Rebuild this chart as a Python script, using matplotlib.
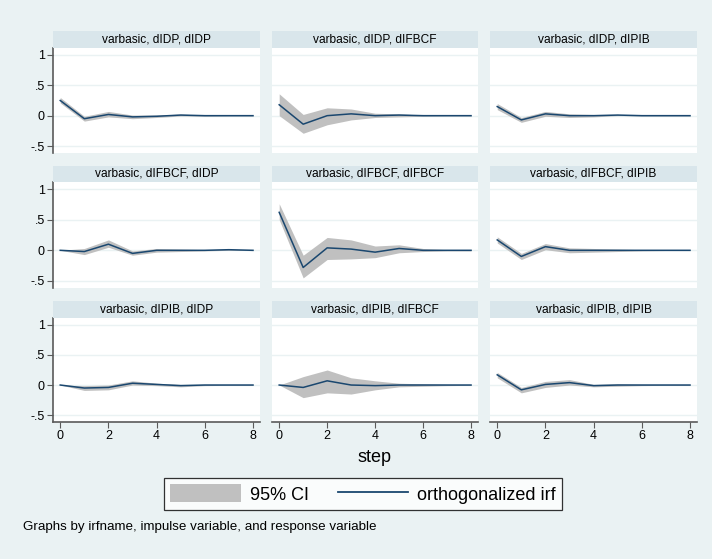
import numpy as np
import matplotlib
matplotlib.use("Agg")
import matplotlib.pyplot as plt
from matplotlib.patches import Patch
from matplotlib.lines import Line2D

plt.rcParams['font.family'] = ['Liberation Sans', 'DejaVu Sans']

# impulse-response data, steps 0..8
steps = [0, 1, 2, 3, 4, 5, 6, 7, 8]
variables = ["dIDP", "dIFBCF", "dIPIB"]

# dIDP -> dIDP
irf_idp_idp = [0.25, -0.05, 0.02, -0.02, -0.01, 0.01, 0.0, 0.0, 0.0]
lo_idp_idp = [0.21, -0.09, -0.02, -0.05, -0.03, -0.005, -0.01, -0.005, -0.005]
hi_idp_idp = [0.30, -0.01, 0.07, 0.01, 0.01, 0.025, 0.01, 0.005, 0.005]
# dIDP -> dIFBCF
irf_idp_fbcf = [0.18, -0.14, 0.0, 0.03, 0.0, 0.01, 0.0, 0.0, 0.0]
lo_idp_fbcf = [0.0, -0.29, -0.15, -0.07, -0.03, -0.02, -0.01, -0.005, -0.005]
hi_idp_fbcf = [0.36, 0.02, 0.13, 0.11, 0.04, 0.03, 0.01, 0.005, 0.005]
# dIDP -> dIPIB
irf_idp_pib = [0.15, -0.07, 0.03, 0.0, 0.0, 0.01, 0.0, 0.0, 0.0]
lo_idp_pib = [0.10, -0.11, -0.01, -0.03, -0.02, 0.0, -0.005, -0.005, -0.005]
hi_idp_pib = [0.20, -0.03, 0.07, 0.03, 0.02, 0.02, 0.005, 0.005, 0.005]
# dIFBCF -> dIDP
irf_fbcf_idp = [0.0, -0.02, 0.10, -0.05, 0.0, 0.0, 0.0, 0.01, 0.0]
lo_fbcf_idp = [0.0, -0.07, 0.05, -0.08, -0.03, -0.02, -0.01, 0.0, -0.005]
hi_fbcf_idp = [0.0, 0.03, 0.17, -0.01, 0.03, 0.02, 0.01, 0.02, 0.005]
# dIFBCF -> dIFBCF
irf_fbcf_fbcf = [0.62, -0.28, 0.04, 0.02, -0.03, 0.03, 0.0, 0.0, 0.0]
lo_fbcf_fbcf = [0.50, -0.45, -0.15, -0.14, -0.12, -0.04, -0.02, -0.01, -0.01]
hi_fbcf_fbcf = [0.76, -0.08, 0.21, 0.17, 0.07, 0.09, 0.03, 0.01, 0.01]
# dIFBCF -> dIPIB
irf_fbcf_pib = [0.17, -0.10, 0.06, 0.0, 0.0, 0.0, 0.0, 0.0, 0.0]
lo_fbcf_pib = [0.12, -0.15, 0.01, -0.04, -0.03, -0.02, -0.01, -0.005, -0.005]
hi_fbcf_pib = [0.22, -0.05, 0.11, 0.04, 0.03, 0.02, 0.01, 0.005, 0.005]
# dIPIB -> dIDP
irf_pib_idp = [0.0, -0.05, -0.04, 0.03, 0.01, -0.01, 0.0, 0.0, 0.0]
lo_pib_idp = [0.0, -0.09, -0.08, 0.0, -0.01, -0.03, -0.01, -0.005, -0.005]
hi_pib_idp = [0.0, -0.01, 0.0, 0.07, 0.03, 0.01, 0.01, 0.005, 0.005]
# dIPIB -> dIFBCF
irf_pib_fbcf = [0.0, -0.04, 0.07, 0.0, -0.01, 0.0, 0.0, 0.0, 0.0]
lo_pib_fbcf = [0.0, -0.21, -0.13, -0.15, -0.08, -0.03, -0.02, -0.01, -0.005]
hi_pib_fbcf = [0.0, 0.14, 0.25, 0.12, 0.07, 0.03, 0.02, 0.01, 0.005]
# dIPIB -> dIPIB
irf_pib_pib = [0.17, -0.08, 0.01, 0.04, -0.01, 0.0, 0.0, 0.0, 0.0]
lo_pib_pib = [0.12, -0.13, -0.04, 0.0, -0.03, -0.02, -0.01, -0.005, -0.005]
hi_pib_pib = [0.21, -0.04, 0.06, 0.09, 0.01, 0.02, 0.01, 0.005, 0.005]

panels = [
    [(irf_idp_idp, lo_idp_idp, hi_idp_idp),
     (irf_idp_fbcf, lo_idp_fbcf, hi_idp_fbcf),
     (irf_idp_pib, lo_idp_pib, hi_idp_pib)],
    [(irf_fbcf_idp, lo_fbcf_idp, hi_fbcf_idp),
     (irf_fbcf_fbcf, lo_fbcf_fbcf, hi_fbcf_fbcf),
     (irf_fbcf_pib, lo_fbcf_pib, hi_fbcf_pib)],
    [(irf_pib_idp, lo_pib_idp, hi_pib_idp),
     (irf_pib_fbcf, lo_pib_fbcf, hi_pib_fbcf),
     (irf_pib_pib, lo_pib_pib, hi_pib_pib)],
]

yticks = [-0.5, 0, 0.5, 1]
ytick_labels = ["-.5", "0", ".5", "1"]
xticks = [0, 2, 4, 6, 8]

bg = "#EAF2F3"
strip_col = "#D9E6EB"
grid_col = "#EAF2F3"
line_col = "#1A476F"
ci_col = "#C0C0C0"
axis_col = "#5A5A5A"

W, H = 712, 559
fig = plt.figure(figsize=(W / 100, H / 100), dpi=100, facecolor=bg)

col_x = [(53, 260), (272, 478), (490, 697)]
row_y = [(31, 48, 153), (166, 182, 288), (301, 318, 422)]

for r in range(3):
    for c in range(3):
        x0, x1 = col_x[c]
        s0, p0, p1 = row_y[r]
        irf, lo, hi = panels[r][c]

        ax = fig.add_axes([x0 / W, 1 - p1 / H, (x1 - x0) / W, (p1 - p0) / H])
        ax.set_facecolor("white")
        for y in yticks:
            ax.axhline(y, color=grid_col, lw=1.0, zorder=0)
        ax.fill_between(steps, lo, hi, color=ci_col, lw=0, zorder=1)
        ax.plot(steps, irf, color=line_col, lw=1.1, zorder=2)
        ax.set_xlim(-0.3, 8.29)
        ax.set_ylim(-0.615, 1.115)
        for sp in ax.spines.values():
            sp.set_visible(False)
        ax.set_yticks(yticks)
        ax.set_xticks(xticks)
        if c == 0:
            ax.spines['left'].set_visible(True)
            ax.spines['left'].set_color(axis_col)
            ax.spines['left'].set_linewidth(1.2)
            ax.set_yticklabels(ytick_labels, fontsize=9)
            ax.tick_params(axis='y', length=4, color=axis_col, pad=2)
        else:
            ax.tick_params(axis='y', length=0, labelleft=False)
        if r == 2:
            ax.spines['bottom'].set_visible(True)
            ax.spines['bottom'].set_color(axis_col)
            ax.spines['bottom'].set_linewidth(1.2)
            ax.set_xticklabels([str(v) for v in xticks], fontsize=9)
            ax.tick_params(axis='x', length=4, color=axis_col, pad=2)
        else:
            ax.tick_params(axis='x', length=0, labelbottom=False)

        sax = fig.add_axes([x0 / W, 1 - p0 / H, (x1 - x0) / W, (p0 - s0) / H])
        sax.set_facecolor(strip_col)
        sax.set_xticks([])
        sax.set_yticks([])
        for sp in sax.spines.values():
            sp.set_visible(False)
        sax.text(0.5, 0.5, "varbasic, %s, %s" % (variables[r], variables[c]),
                 ha="center", va="center", fontsize=8.6, transform=sax.transAxes)

fig.text(375 / W, 1 - 458 / H, "step", ha="center", va="center", fontsize=13)

handles = [Patch(facecolor=ci_col, edgecolor="none"),
           Line2D([0], [0], color=line_col, lw=1.3)]
leg = fig.legend(handles, ["95% CI", "orthogonalized irf"], ncol=2,
                 loc="center", bbox_to_anchor=(363 / W, 1 - 494 / H),
                 fontsize=13, frameon=True, fancybox=False,
                 handlelength=3.9, handleheight=1.15, columnspacing=1.6,
                 handletextpad=0.5, borderpad=0.35, borderaxespad=0)
leg.get_frame().set_edgecolor("black")
leg.get_frame().set_linewidth(0.9)

fig.text(23 / W, 1 - 527 / H,
         "Graphs by irfname, impulse variable, and response variable",
         ha="left", va="center", fontsize=9.6)

fig.savefig("out.png", dpi=100, facecolor=bg)
